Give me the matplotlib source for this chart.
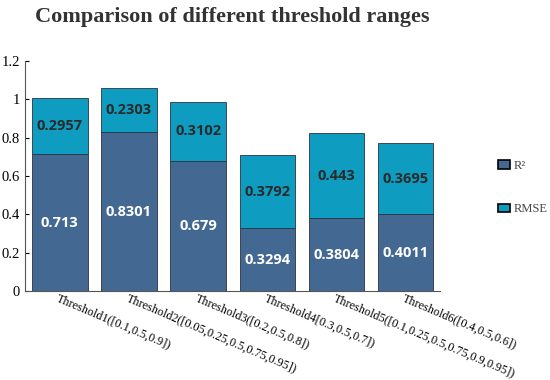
import matplotlib
matplotlib.use('Agg')
import matplotlib.pyplot as plt
import numpy as np

categories = ['Threshold1([0.1,0.5,0.9])',
              'Threshold2([0.05,0.25,0.5,0.75,0.95])',
              'Threshold3([0.2,0.5,0.8])',
              'Threshold4[0.3,0.5,0.7])',
              'Threshold5([0.1,0.25,0.5,0.75,0.9,0.95])',
              'Threshold6([0.4,0.5,0.6])']
r2 = [0.713, 0.8301, 0.679, 0.3294, 0.3804, 0.4011]
rmse = [0.2957, 0.2303, 0.3102, 0.3792, 0.443, 0.3695]
r2_labels = ['0.713', '0.8301', '0.679', '0.3294', '0.3804', '0.4011']
rmse_labels = ['0.2957', '0.2303', '0.3102', '0.3792', '0.443', '0.3695']

c_r2 = '#436992'
c_rmse = '#0e9cc0'

fig = plt.figure(figsize=(5.5, 3.8), dpi=100)
ax = fig.add_axes([0.046, 0.234, 0.754, 0.605])

x = np.arange(1, len(categories) + 1)
b1 = ax.bar(x, r2, width=0.8, color=c_r2, edgecolor='#2a3340', linewidth=0.6, label='R²')
b2 = ax.bar(x, rmse, width=0.8, bottom=r2, color=c_rmse, edgecolor='#2a3340', linewidth=0.6, label='RMSE')

for xi, v, t in zip(x, r2, r2_labels):
    ax.text(xi, v / 2, t, ha='center', va='center', color='white',
            fontsize=10.5, fontweight='bold', family='Open Sans')
for xi, b, v, t in zip(x, r2, rmse, rmse_labels):
    ax.text(xi, b + v / 2, t, ha='center', va='center', color='#2b2b2b',
            fontsize=10.5, fontweight='bold', family='Open Sans')

ax.set_xlim(0.5, 6.5)
ax.set_ylim(0, 1.2)
ax.set_yticks([0, 0.2, 0.4, 0.6, 0.8, 1, 1.2])
ax.set_yticklabels(['0', '0.2', '0.4', '0.6', '0.8', '1', '1.2'])
ax.set_xticks(x)
ax.set_xticklabels(categories, rotation=-23, ha='left', va='top',
                   rotation_mode='anchor')
ax.tick_params(axis='y', direction='in', length=3, labelsize=10.5, pad=4)
ax.tick_params(axis='x', length=0, labelsize=8.7, pad=1)
for lab in ax.get_xticklabels() + ax.get_yticklabels():
    lab.set_family('Liberation Serif')
ax.spines['top'].set_visible(False)
ax.spines['right'].set_visible(False)
ax.spines['left'].set_color('#555555')
ax.spines['bottom'].set_color('#555555')

leg = ax.legend(handles=[b1, b2], loc='center left', bbox_to_anchor=(1.112, 0.45),
                frameon=False, labelspacing=2.5, handlelength=1.0, handleheight=0.7,
                handletextpad=0.3, prop={'family': 'Liberation Serif', 'size': 9})
for h in leg.legend_handles:
    h.set_edgecolor('black')
    h.set_linewidth(1.2)
for t in leg.get_texts():
    t.set_color('#444444')

fig.text(0.422, 0.955, 'Comparison of different threshold ranges', ha='center', va='center',
         fontsize=16, fontweight='bold', family='Liberation Serif', color='#333333')

fig.savefig('out.png', dpi=100)
